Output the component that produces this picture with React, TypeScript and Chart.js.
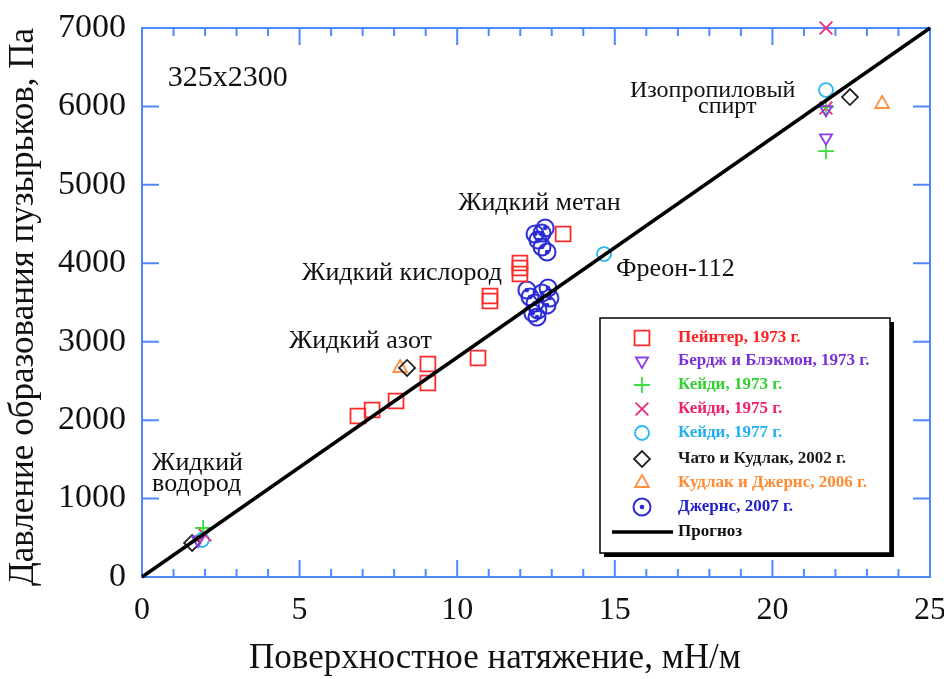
import React, { useEffect, useRef } from 'react';
import { Chart, registerables } from 'chart.js';
import { drawPoint } from 'chart.js/helpers';

Chart.register(...registerables);

const SERIF = '"Liberation Serif", "Times New Roman", serif';

// ---- axis ticks ----
const xTickValues = [0, 5, 10, 15, 20, 25];
const yTickValues = [0, 1000, 2000, 3000, 4000, 5000, 6000, 7000];

// ---- series (surface tension mN/m, bubble pressure Pa) ----
const peinterX = [6.85, 7.3, 8.06, 9.07, 9.07, 10.66, 11.04, 11.04, 11.99, 11.99, 11.99, 13.36];
const peinterY = [2053, 2129, 2244, 2716, 2474, 2792, 3583, 3519, 4004, 3940, 3863, 4373];

const berdjX = [1.78, 21.7, 21.7];
const berdjY = [472, 5600, 5960];

const cady73X = [1.94, 21.7, 21.7];
const cady73Y = [625, 5430, 5990];

const cady75X = [2.0, 21.7, 21.7];
const cady75Y = [535, 5980, 7000];

const cady77X = [1.9, 14.66, 21.7];
const cady77Y = [472, 4118, 6209];

const chatoX = [1.59, 8.41, 22.46];
const chatoY = [434, 2665, 6120];

const kudlakX = [8.19, 23.48];
const kudlakY = [2665, 6031];

const jernsX = [12.47, 12.69, 12.79, 12.69, 12.85, 12.56, 12.21, 12.31, 12.47, 12.56, 12.4, 12.69, 12.88, 12.94, 12.85, 12.53];
const jernsY = [4373, 4386, 4450, 4208, 4144, 4297, 3659, 3570, 3494, 3404, 3366, 3621, 3685, 3557, 3468, 3315];

const forecastX = [0, 25];
const forecastY = [0, 7000];

const seriesLabels = [
  'Пейнтер, 1973 г.',
  'Бердж и Блэкмон, 1973 г.',
  'Кейди, 1973 г.',
  'Кейди, 1975 г.',
  'Кейди, 1977 г.',
  'Чато и Кудлак, 2002 г.',
  'Кудлак и Джернс, 2006 г.',
  'Джернс, 2007 г.',
  'Прогноз',
];

const annotations = [
  { text: '325x2300', x: 0.82, y: 6260, size: 30 },
  { text: 'Изопропиловый', x: 15.48, y: 6120, size: 24 },
  { text: 'спирт', x: 17.64, y: 5916, size: 24 },
  { text: 'Жидкий метан', x: 10.03, y: 4680, size: 26 },
  { text: 'Жидкий кислород', x: 5.08, y: 3787, size: 26 },
  { text: 'Фреон-112', x: 15.04, y: 3838, size: 26 },
  { text: 'Жидкий азот', x: 4.66, y: 2920, size: 26 },
  { text: 'Жидкий', x: 0.32, y: 1364, size: 26 },
  { text: 'водород', x: 0.32, y: 1097, size: 26 },
];

const xTitle = 'Поверхностное натяжение, мН/м';
const yTitle = 'Давление образования пузырьков, Па';

const AXIS_BLUE = '#4d88ff';

const pts = (xs: number[], ys: number[]) => xs.map((x, i) => ({ x, y: ys[i] }));

function makeDotCircle(color: string) {
  const c = document.createElement('canvas');
  c.width = 22;
  c.height = 22;
  const g = c.getContext('2d')!;
  g.strokeStyle = color;
  g.lineWidth = 2;
  g.beginPath();
  g.arc(11, 11, 8.5, 0, Math.PI * 2);
  g.stroke();
  g.fillStyle = color;
  g.beginPath();
  g.arc(11, 11, 2.3, 0, Math.PI * 2);
  g.fill();
  return c;
}

export default function App() {
  const ref = useRef<HTMLCanvasElement | null>(null);

  useEffect(() => {
    if (!ref.current) return;
    const jernsStyle = makeDotCircle('#2a2ad6');

    const styles = [
      { color: '#ff2b2b', text: '#ff2020', pointStyle: 'rect', radius: 10.5, rotation: 0 },
      { color: '#8a3ee6', text: '#7a30d8', pointStyle: 'triangle', radius: 7, rotation: 180 },
      { color: '#3ddc3d', text: '#30d030', pointStyle: 'cross', radius: 8, rotation: 0 },
      { color: '#f2287c', text: '#f0206e', pointStyle: 'crossRot', radius: 9, rotation: 0 },
      { color: '#25b8f2', text: '#20b0f0', pointStyle: 'circle', radius: 7, rotation: 0 },
      { color: '#222222', text: '#1a1a1a', pointStyle: 'rectRot', radius: 8, rotation: 0 },
      { color: '#ff9040', text: '#ff8a30', pointStyle: 'triangle', radius: 8, rotation: 0 },
      { color: '#2a2ad6', text: '#2020c8', pointStyle: jernsStyle as any, radius: 8, rotation: 0 },
    ];
    const dataXY = [
      pts(peinterX, peinterY),
      pts(berdjX, berdjY),
      pts(cady73X, cady73Y),
      pts(cady75X, cady75Y),
      pts(cady77X, cady77Y),
      pts(chatoX, chatoY),
      pts(kudlakX, kudlakY),
      pts(jernsX, jernsY),
    ];

    const datasets: any[] = dataXY.map((d, i) => ({
      label: seriesLabels[i],
      data: d,
      showLine: false,
      pointStyle: styles[i].pointStyle,
      pointRadius: styles[i].radius,
      pointRotation: styles[i].rotation,
      pointBorderColor: styles[i].color,
      pointBackgroundColor: 'rgba(0,0,0,0)',
      pointBorderWidth: 1.8,
      clip: false,
      order: 1,
    }));
    datasets.push({
      label: seriesLabels[8],
      data: pts(forecastX, forecastY),
      showLine: true,
      borderColor: '#000',
      borderWidth: 3.5,
      pointRadius: 0,
      clip: false,
      order: 0,
    });

    const framePlugin = {
      id: 'frame',
      beforeDatasetsDraw(chart: any) {
        const { ctx, chartArea: a, scales } = chart;
        const xs = scales.x;
        const ys = scales.y;
        ctx.save();
        ctx.strokeStyle = AXIS_BLUE;
        ctx.lineWidth = 2;
        ctx.strokeRect(a.left, a.top, a.right - a.left, a.bottom - a.top);
        ctx.beginPath();
        for (let v = 1; v < 25; v++) {
          const px = xs.getPixelForValue(v);
          const len = v % 5 === 0 ? 17 : 8;
          ctx.moveTo(px, a.bottom);
          ctx.lineTo(px, a.bottom - len);
          ctx.moveTo(px, a.top);
          ctx.lineTo(px, a.top + len);
        }
        for (let v = 1000; v < 7000; v += 1000) {
          const py = ys.getPixelForValue(v);
          ctx.moveTo(a.left, py);
          ctx.lineTo(a.left + 17, py);
          ctx.moveTo(a.right, py);
          ctx.lineTo(a.right - 17, py);
        }
        ctx.stroke();
        ctx.restore();
      },
      afterDraw(chart: any) {
        const { ctx, chartArea: a, scales } = chart;
        const xs = scales.x;
        const ys = scales.y;
        ctx.save();
        // annotations
        ctx.fillStyle = '#111';
        ctx.textBaseline = 'alphabetic';
        ctx.textAlign = 'left';
        annotations.forEach((an) => {
          ctx.font = `${an.size}px ${SERIF}`;
          ctx.fillText(an.text, xs.getPixelForValue(an.x), ys.getPixelForValue(an.y));
        });
        // axis titles
        ctx.font = `35px ${SERIF}`;
        ctx.textAlign = 'center';
        ctx.textBaseline = 'middle';
        ctx.fillText(xTitle, 495, 659);
        ctx.save();
        ctx.translate(24, 307);
        ctx.rotate(-Math.PI / 2);
        ctx.fillText(yTitle, 0, 0);
        ctx.restore();

        // legend box
        const L = 600, T = 318, R = 890, B = 553;
        ctx.fillStyle = '#000';
        ctx.fillRect(L + 4, T + 4, R - L, B - T);
        ctx.fillStyle = '#fff';
        ctx.fillRect(L, T, R - L, B - T);
        ctx.strokeStyle = '#000';
        ctx.lineWidth = 1.5;
        ctx.strokeRect(L, T, R - L, B - T);
        const rows = [338, 361, 385, 409, 433, 459, 483, 507, 532];
        ctx.font = `bold 17px ${SERIF}`;
        ctx.textAlign = 'left';
        ctx.textBaseline = 'middle';
        styles.forEach((s, i) => {
          ctx.strokeStyle = s.color;
          ctx.fillStyle = 'rgba(0,0,0,0)';
          ctx.lineWidth = 1.8;
          drawPoint(ctx, { pointStyle: s.pointStyle, radius: s.radius, rotation: s.rotation, borderWidth: 1.8 } as any, 642, rows[i]);
          ctx.fillStyle = s.text;
          ctx.fillText(seriesLabels[i], 678, rows[i]);
        });
        ctx.strokeStyle = '#000';
        ctx.lineWidth = 3.5;
        ctx.beginPath();
        ctx.moveTo(612, rows[8]);
        ctx.lineTo(673, rows[8]);
        ctx.stroke();
        ctx.fillStyle = '#111';
        ctx.fillText(seriesLabels[8], 678, rows[8]);
        ctx.restore();
      },
    };

    const zeroPad = (s: any) => {
      s.paddingTop = 0;
      s.paddingBottom = 0;
      s.paddingLeft = 0;
      s.paddingRight = 0;
    };

    const chart = new Chart(ref.current, {
      type: 'scatter',
      data: { datasets },
      options: {
        animation: false,
        responsive: true,
        maintainAspectRatio: false,
        layout: { padding: { top: 28, right: 14, left: 0, bottom: 0 } },
        plugins: { legend: { display: false }, tooltip: { enabled: false } },
        scales: {
          x: {
            type: 'linear',
            min: 0,
            max: 25,
            afterBuildTicks: (s: any) => {
              s.ticks = xTickValues.map((v) => ({ value: v }));
            },
            afterFit: (s: any) => {
              s.height = 102;
              zeroPad(s);
            },
            grid: { display: false, drawTicks: false },
            border: { display: false },
            ticks: { color: '#111', font: { family: SERIF, size: 32 }, padding: 14, maxRotation: 0, callback: (v: any) => String(v) },
          },
          y: {
            type: 'linear',
            min: 0,
            max: 7000,
            afterBuildTicks: (s: any) => {
              s.ticks = yTickValues.map((v) => ({ value: v }));
            },
            afterFit: (s: any) => {
              s.width = 142;
              zeroPad(s);
            },
            grid: { display: false, drawTicks: false },
            border: { display: false },
            ticks: { color: '#111', font: { family: SERIF, size: 34 }, padding: 16, callback: (v: any) => String(v) },
          },
        },
      },
      plugins: [framePlugin],
    });
    return () => chart.destroy();
  }, []);

  return (
    <div style={{ position: 'fixed', left: 0, top: 0, width: 944, height: 679, background: '#fff' }}>
      <canvas ref={ref} />
    </div>
  );
}
